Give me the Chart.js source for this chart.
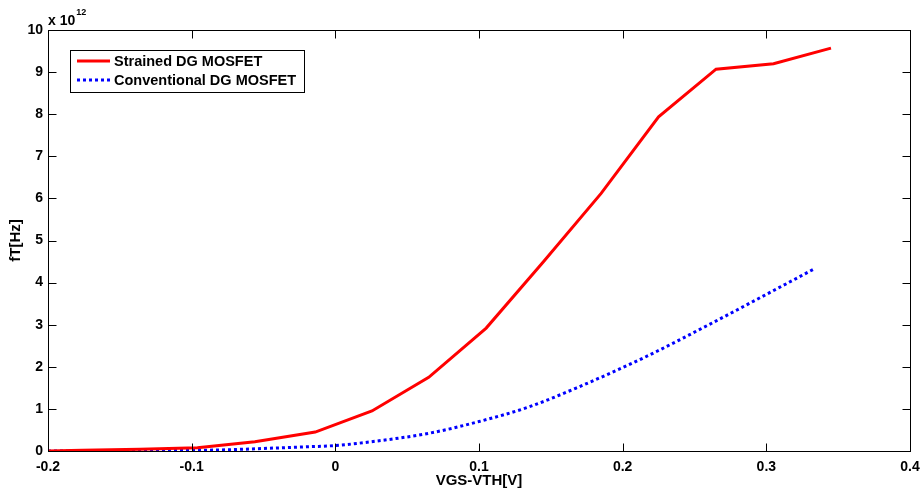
<!DOCTYPE html>
<html>
<head>
<meta charset="utf-8">
<script src="https://cdn.jsdelivr.net/npm/chart.js@4"></script>
<style>
  html, body { margin: 0; padding: 0; background: #fff; }
  #wrap { width: 922px; height: 490px; }
</style>
</head>
<body>
<div id="wrap"><canvas id="ftChart" width="922" height="490"></canvas></div>
<script>
"use strict";

// gate overdrive [V] and cut-off frequency (x 10^12 Hz)
const vStrained = [-0.2, -0.176, -0.136, -0.096, -0.056, -0.014, 0.0255, 0.065, 0.105, 0.145, 0.185, 0.225, 0.265, 0.305, 0.345];
const fStrained = [0, 0.02, 0.04, 0.08, 0.22, 0.45, 0.95, 1.75, 2.92, 4.5, 6.12, 7.94, 9.07, 9.2, 9.57];

const vConventional = [-0.2, -0.16, -0.12, -0.08, -0.05, -0.02, 0.0, 0.025, 0.065, 0.1, 0.135, 0.17, 0.215, 0.26, 0.3, 0.333];
const fConventional = [0, 0.005, 0.012, 0.025, 0.06, 0.1, 0.13, 0.22, 0.42, 0.7, 1.05, 1.53, 2.22, 3.0, 3.72, 4.32];

const seriesNames = ["Strained DG MOSFET", "Conventional DG MOSFET"];
const xTicks = [-0.2, -0.1, 0, 0.1, 0.2, 0.3, 0.4];
const yTicks = [0, 1, 2, 3, 4, 5, 6, 7, 8, 9, 10];
const yExponent = "12";

const FONT = "'Liberation Sans', Arial, sans-serif";

function toPoints(xs, ys) {
    return xs.map((x, i) => ({ x: x, y: ys[i] }));
}

// matlab-like frame: inward ticks on all four sides, exponent and legend box
const matlabFrame = {
    id: "matlabFrame",
    afterDraw(chart) {
        const ctx = chart.ctx;
        const a = chart.chartArea;
        const xs = chart.scales.x, ys = chart.scales.y;
        const L = Math.round(a.left) + 0.5, R = Math.round(a.right) + 0.5;
        const T = Math.round(a.top) + 0.5, B = Math.round(a.bottom) + 0.5;
        const tl = 8;

        ctx.save();
        ctx.strokeStyle = "#000";
        ctx.lineWidth = 1;
        ctx.strokeRect(L, T, R - L, B - T);

        ctx.beginPath();
        xTicks.forEach((v) => {
            const px = Math.round(xs.getPixelForValue(v)) + 0.5;
            ctx.moveTo(px, B); ctx.lineTo(px, B - tl);
            ctx.moveTo(px, T); ctx.lineTo(px, T + tl);
        });
        yTicks.forEach((v) => {
            const py = Math.round(ys.getPixelForValue(v)) + 0.5;
            ctx.moveTo(L, py); ctx.lineTo(L + tl, py);
            ctx.moveTo(R, py); ctx.lineTo(R - tl, py);
        });
        ctx.stroke();

        // exponent label
        ctx.fillStyle = "#000";
        ctx.textBaseline = "alphabetic";
        ctx.textAlign = "left";
        ctx.font = "bold 14px " + FONT;
        ctx.fillText("x 10", 48, 25);
        const w = ctx.measureText("x 10").width;
        ctx.font = "bold 9px " + FONT;
        ctx.fillText(yExponent, 48 + w + 1, 15);

        // legend
        const lx = 70.5, ly = 50.5, lw = 234, lh = 42;
        ctx.fillStyle = "#fff";
        ctx.fillRect(lx, ly, lw, lh);
        ctx.strokeStyle = "#000";
        ctx.lineWidth = 1;
        ctx.strokeRect(lx, ly, lw, lh);
        chart.data.datasets.forEach((ds, i) => {
            const y = 61 + i * 19;
            ctx.beginPath();
            ctx.strokeStyle = ds.borderColor;
            ctx.lineWidth = ds.borderWidth;
            ctx.setLineDash(ds.borderDash || []);
            ctx.moveTo(77, y);
            ctx.lineTo(110, y);
            ctx.stroke();
            ctx.setLineDash([]);
            ctx.fillStyle = "#000";
            ctx.font = "bold 14.5px " + FONT;
            ctx.textBaseline = "middle";
            ctx.fillText(ds.label, 114, y + 1);
        });
        ctx.restore();
    }
};

new Chart(document.getElementById("ftChart").getContext("2d"), {
    type: "line",
    data: {
        datasets: [
            {
                label: seriesNames[0],
                data: toPoints(vStrained, fStrained),
                borderColor: "#ff0000",
                borderWidth: 3,
                pointRadius: 0,
                tension: 0,
                fill: false,
            },
            {
                label: seriesNames[1],
                data: toPoints(vConventional, fConventional),
                borderColor: "#0000ff",
                borderWidth: 3,
                borderDash: [3, 3],
                borderCapStyle: "butt",
                pointRadius: 0,
                cubicInterpolationMode: "monotone",
                fill: false,
            },
        ],
    },
    options: {
        responsive: false,
        animation: false,
        layout: { padding: { top: 30, right: 12, left: 0, bottom: 0 } },
        plugins: {
            legend: { display: false },
            tooltip: { enabled: false },
        },
        scales: {
            x: {
                type: "linear",
                min: -0.2,
                max: 0.4,
                afterBuildTicks: (s) => { s.ticks = xTicks.map((v) => ({ value: v })); },
                afterFit: (s) => { s.height = 39; s.paddingLeft = 0; s.paddingRight = 0; },
                grid: { display: true, drawOnChartArea: false, drawTicks: false },
                border: { display: true, color: "#000", width: 1 },
                ticks: {
                    color: "#000",
                    padding: 8,
                    maxRotation: 0,
                    font: { family: FONT, size: 14, weight: "bold" },
                    callback: (v) => String(Math.round(v * 10) / 10),
                },
                title: {
                    display: true,
                    text: "VGS-VTH[V]",
                    color: "#000",
                    padding: { top: 0, bottom: 0 },
                    font: { family: FONT, size: 15, weight: "bold" },
                },
            },
            y: {
                type: "linear",
                min: 0,
                max: 10,
                afterBuildTicks: (s) => { s.ticks = yTicks.map((v) => ({ value: v })); },
                afterFit: (s) => { s.width = 48; s.paddingTop = 0; s.paddingBottom = 0; },
                grid: { display: true, drawOnChartArea: false, drawTicks: false },
                border: { display: true, color: "#000", width: 1 },
                ticks: {
                    color: "#000",
                    padding: 5,
                    font: { family: FONT, size: 14, weight: "bold" },
                },
                title: {
                    display: true,
                    text: "fT[Hz]",
                    color: "#000",
                    padding: { top: 7, bottom: 0 },
                    font: { family: FONT, size: 15, weight: "bold" },
                },
            },
        },
    },
    plugins: [matlabFrame],
});
</script>
</body>
</html>
